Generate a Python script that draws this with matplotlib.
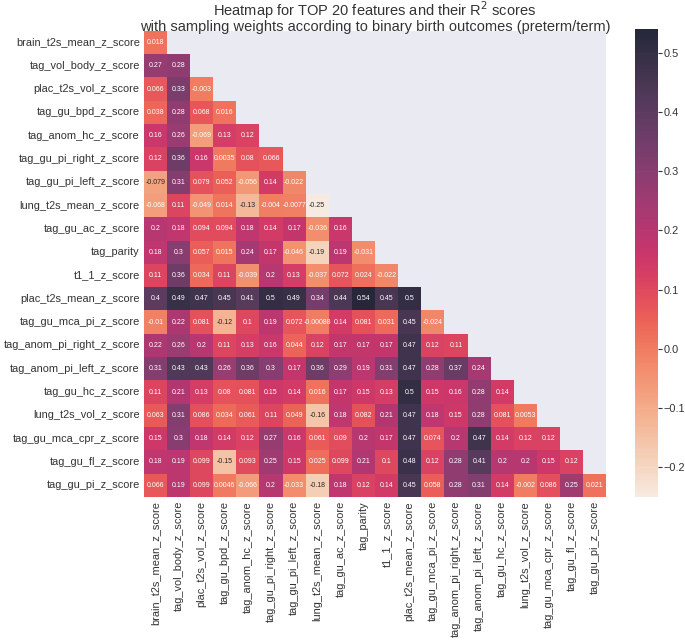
import numpy as np
import pandas as pd
import matplotlib
matplotlib.use("Agg")
import matplotlib.pyplot as plt
import seaborn as sns

# --- Daten ---
features = [
    "brain_t2s_mean_z_score", "tag_vol_body_z_score", "plac_t2s_vol_z_score",
    "tag_gu_bpd_z_score", "tag_anom_hc_z_score", "tag_gu_pi_right_z_score",
    "tag_gu_pi_left_z_score", "lung_t2s_mean_z_score", "tag_gu_ac_z_score",
    "tag_parity", "t1_1_z_score", "plac_t2s_mean_z_score",
    "tag_gu_mca_pi_z_score", "tag_anom_pi_right_z_score", "tag_anom_pi_left_z_score",
    "tag_gu_hc_z_score", "lung_t2s_vol_z_score", "tag_gu_mca_cpr_z_score",
    "tag_gu_fl_z_score", "tag_gu_pi_z_score",
]

# untere Dreiecksmatrix, Zeile fuer Zeile (inkl. Diagonale)
r2_rows = [
    [0.018],
    [0.27, 0.28],
    [0.066, 0.33, -0.003],
    [0.038, 0.28, 0.068, 0.016],
    [0.16, 0.26, -0.069, 0.13, 0.12],
    [0.12, 0.36, 0.16, 0.0035, 0.08, 0.066],
    [-0.079, 0.31, 0.079, 0.052, -0.056, 0.14, -0.022],
    [-0.068, 0.11, -0.049, 0.014, -0.13, -0.004, -0.0077, -0.25],
    [0.2, 0.18, 0.094, 0.094, 0.18, 0.14, 0.17, -0.036, 0.16],
    [0.18, 0.3, 0.057, 0.015, 0.24, 0.17, -0.046, -0.19, 0.19, -0.031],
    [0.11, 0.36, 0.034, 0.11, -0.039, 0.2, 0.13, -0.037, 0.072, 0.024, -0.022],
    [0.4, 0.49, 0.47, 0.45, 0.41, 0.5, 0.49, 0.34, 0.44, 0.54, 0.45, 0.5],
    [-0.01, 0.22, 0.081, -0.12, 0.1, 0.19, 0.072, -0.00088, 0.14, 0.081, 0.031, 0.45, -0.024],
    [0.22, 0.26, 0.2, 0.11, 0.13, 0.16, 0.044, 0.12, 0.17, 0.17, 0.17, 0.47, 0.12, 0.11],
    [0.31, 0.43, 0.43, 0.26, 0.36, 0.3, 0.17, 0.36, 0.29, 0.19, 0.31, 0.47, 0.28, 0.37, 0.24],
    [0.11, 0.21, 0.13, 0.08, 0.081, 0.15, 0.14, 0.016, 0.17, 0.15, 0.13, 0.5, 0.15, 0.16, 0.28, 0.14],
    [0.063, 0.31, 0.086, 0.034, 0.061, 0.11, 0.049, -0.16, 0.18, 0.082, 0.21, 0.47, 0.18, 0.15,
     0.28, 0.081, 0.0053],
    [0.15, 0.3, 0.18, 0.14, 0.12, 0.27, 0.16, 0.061, 0.09, 0.2, 0.17, 0.47, 0.074, 0.2, 0.47,
     0.14, 0.12, 0.12],
    [0.18, 0.19, 0.099, -0.15, 0.093, 0.25, 0.15, 0.025, 0.099, 0.21, 0.1, 0.48, 0.12, 0.28,
     0.41, 0.2, 0.2, 0.15, 0.12],
    [0.066, 0.19, 0.099, 0.0046, -0.066, 0.2, -0.033, -0.18, 0.18, 0.12, 0.14, 0.45, 0.058,
     0.28, 0.31, 0.14, -0.002, 0.086, 0.25, 0.021],
]

n = len(features)
mat = np.full((n, n), np.nan)
for i, row in enumerate(r2_rows):
    mat[i, :len(row)] = row
df = pd.DataFrame(mat, index=features, columns=features)
mask = np.triu(np.ones((n, n), dtype=bool), k=1)

# --- Plot ---
sns.set_style("darkgrid")
plt.rcParams["font.family"] = ["Liberation Sans", "DejaVu Sans"]

fig = plt.figure(figsize=(6.85, 6.42), dpi=100)
ax = fig.add_axes([0.210, 0.226, 0.675, 0.726])
cax = fig.add_axes([0.927, 0.226, 0.034, 0.729])

sns.heatmap(df, mask=mask, cmap="rocket_r", annot=True, fmt=".2g", alpha=0.85,
            annot_kws={"fontsize": 5}, ax=ax, cbar_ax=cax,
            xticklabels=features, yticklabels=features)
ax.grid(False)

ax.tick_params(axis="both", labelsize=7.9, length=0, colors="#333333", pad=3)
plt.setp(ax.get_xticklabels(), rotation=90)
plt.setp(ax.get_yticklabels(), rotation=0)
ax.set_title("Heatmap for TOP 20 features and their R$^2$ scores\n"
             "with sampling weights according to binary birth outcomes (preterm/term)",
             fontsize=10.5, color="#333333", pad=0, linespacing=0.88)

cax.tick_params(labelsize=7.9, colors="#333333", length=3, pad=1)

fig.savefig("out.png", dpi=100)
